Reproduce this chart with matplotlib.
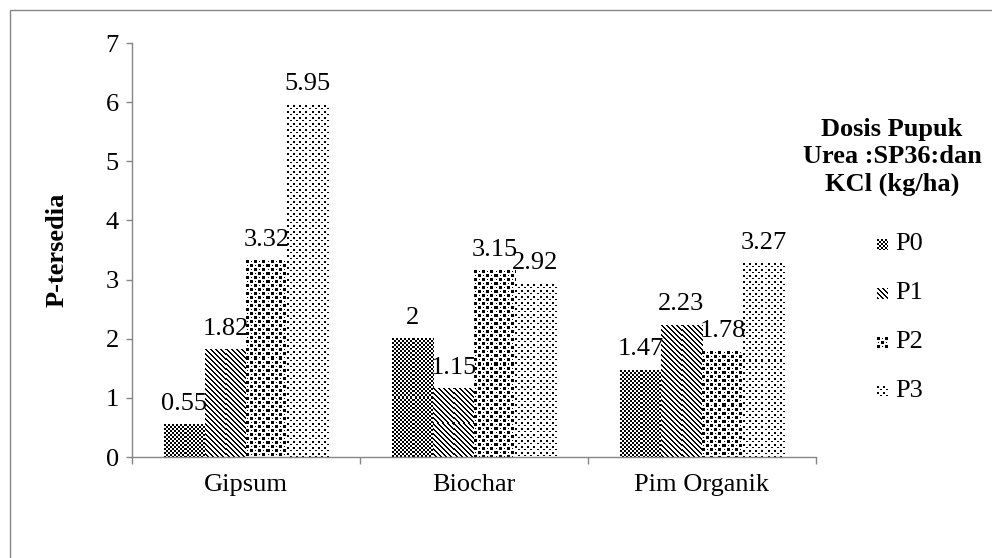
import numpy as np
import matplotlib
matplotlib.use('Agg')
import matplotlib.pyplot as plt
from matplotlib.patches import Rectangle

plt.rcParams['font.family'] = ['Liberation Serif', 'DejaVu Serif']
plt.rcParams['font.size'] = 19

# data P-tersedia
kategori = ['Gipsum', 'Biochar', 'Pim Organik']
perlakuan = ['P0', 'P1', 'P2', 'P3']
p0 = [0.55, 2, 1.47]
p1 = [1.82, 1.15, 2.23]
p2 = [3.32, 3.15, 1.78]
p3 = [5.95, 2.92, 3.27]
judul_legenda = 'Dosis Pupuk\nUrea :SP36:dan\nKCl (kg/ha)'

# pola arsir hitam-putih (0 = hitam, 1 = putih)
pola_p0 = np.array([[0, 0, 1, 1],
                    [0, 0, 1, 1],
                    [1, 1, 0, 0],
                    [1, 1, 0, 0]], dtype=float)
r, c = np.indices((5, 5))
pola_p1 = np.where((c - r) % 5 < 2, 0.0, 1.0)
pola_p2 = np.ones((8, 8))
pola_p2[0:3, 0:3] = 0
pola_p2[4:7, 4:7] = 0
pola_p2[1, 5] = 0
pola_p2[5, 1] = 0
pola_p3 = np.ones((6, 6))
pola_p3[0:2, 0:2] = 0
pola_p3[3, 3:5] = 0
pola = [pola_p0, pola_p1, pola_p2, pola_p3]


def tekstur(tile, w, h):
    ny = h // tile.shape[0] + 1
    nx = w // tile.shape[1] + 1
    return np.tile(tile, (ny, nx))[:h, :w]


W, H = 992, 558
fig = plt.figure(figsize=(W / 100, H / 100), dpi=100)
ax = fig.add_axes([132 / W, 101 / H, 684 / W, 414 / H])
ax.set_xlim(0, 3)
ax.set_ylim(0, 7)

abu = '#868686'
lebar = 0.18
x = np.arange(len(kategori)) + 0.5
nilai = [p0, p1, p2, p3]

for i, seri in enumerate(nilai):
    pos = x + (i - 1.5) * lebar
    bars = ax.bar(pos, seri, lebar, color='white', edgecolor='none', zorder=1)
    for b, v in zip(bars, seri):
        bb = b.get_window_extent()
        w = max(int(round(bb.width)), 1)
        h = max(int(round(bb.height)), 1)
        ax.imshow(tekstur(pola[i], w, h), cmap='gray', vmin=0, vmax=1,
                  interpolation='nearest', aspect='auto', zorder=2,
                  extent=[b.get_x(), b.get_x() + b.get_width(), 0, v])
        ax.annotate('{:g}'.format(v), (b.get_x() + b.get_width() / 2, v),
                    xytext=(0, 15), textcoords='offset points',
                    ha='center', va='center', zorder=3)

ax.set_xlim(0, 3)
ax.set_ylim(0, 7)
ax.set_yticks(range(8))
ax.set_xticks([0, 1, 2, 3])
ax.set_xticklabels([])
ax.set_xticks(x, minor=True)
ax.set_xticklabels(kategori, minor=True)
ax.tick_params(axis='x', which='minor', length=0, pad=12)
ax.tick_params(axis='x', which='major', length=5, color=abu, width=1)
ax.tick_params(axis='y', length=4.5, color=abu, width=1, pad=5)

for s in ['top', 'right']:
    ax.spines[s].set_visible(False)
for s in ['left', 'bottom']:
    ax.spines[s].set_color(abu)
    ax.spines[s].set_linewidth(1)

fig.text(57 / W, 1 - 250 / H, 'P-tersedia', rotation=90, ha='center',
         va='center', weight='bold')

# legenda
fig.text(892 / W, 1 - 157 / H, judul_legenda, ha='center', va='center',
         weight='bold', linespacing=1.25)
for i, nama in enumerate(perlakuan):
    yc = 244 + i * 49
    fig.figimage(tekstur(pola[i], 11, 11), xo=877, yo=H - yc - 6,
                 cmap='gray', vmin=0, vmax=1, origin='upper')
    fig.text(895 / W, 1 - yc / H, nama, ha='left', va='center')

# bingkai luar
fig.patches.append(Rectangle((10 / W, -0.1), 1.2, 1.1 - 10 / H,
                             transform=fig.transFigure, fill=False,
                             edgecolor=abu, linewidth=1))

plt.savefig('out.png', dpi=100)
